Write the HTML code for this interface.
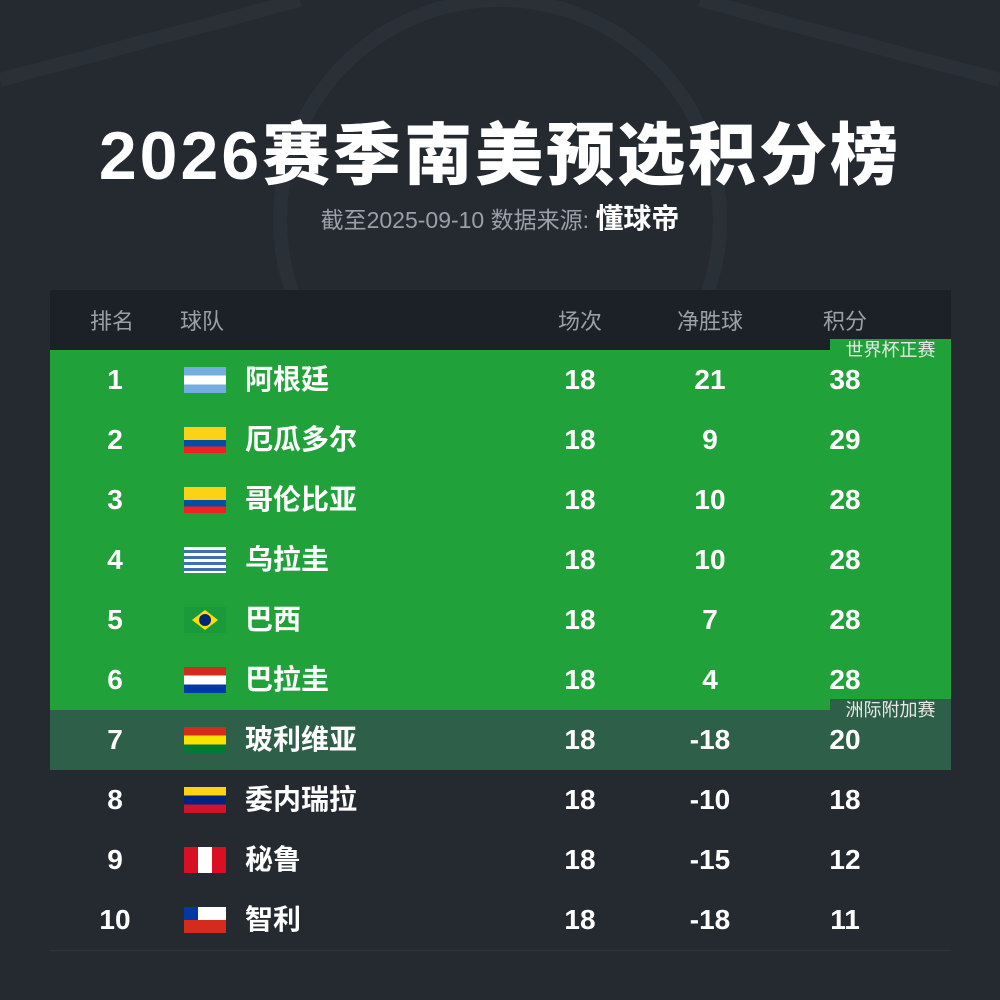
<!DOCTYPE html>
<html><head><meta charset="utf-8"><style>
body{margin:0;width:1000px;height:1000px;background:#252a31;position:relative;overflow:hidden;font-family:"Liberation Sans","Noto Sans CJK SC",sans-serif;color:#fff}
.t{position:absolute;left:0;width:1000px;text-align:center;top:100px;font-size:68px;font-weight:900;letter-spacing:3px}
.s{position:absolute;left:0;width:1000px;text-align:center;top:197px;font-size:23px;color:#9aa0a8}
.s b{color:#fff;font-size:28px}
.hd{position:absolute;left:50px;top:290px;width:901px;height:60px;background:#1c2027;color:#9aa0a8;font-size:22px}
.hd .c{top:2px}
.row{position:absolute;left:50px;width:901px;height:60px;border-bottom:1px solid #2d333b;font-weight:bold;font-size:28px}
.c{position:absolute;top:0;line-height:60px;text-align:center}
.flag{position:absolute;left:134px;top:17px;width:42px;height:26px;overflow:hidden}
.tag{position:absolute;right:0;width:121px;height:22px;font-size:18px;font-weight:normal;line-height:22px;text-align:center;color:#e8e8e8}
</style></head><body>
<svg style="position:absolute;left:0;top:0" width="1000" height="300"><g fill="none" stroke="#2a3037" stroke-width="14"><path d="M0 80 L300 0"/><path d="M700 0 L1000 80"/><circle cx="500" cy="220" r="220"/></g></svg>
<div class="t">2026赛季南美预选积分榜</div>
<div class="s">截至2025-09-10 数据来源: <b>懂球帝</b></div>
<div class="hd"><div class="c" style="left:40px;width:50px;text-align:left">排名</div><div class="c" style="left:130px">球队</div><div class="c" style="left:480px;width:100px">场次</div><div class="c" style="left:610px;width:100px">净胜球</div><div class="c" style="left:745px;width:100px">积分</div></div>
<div id="rows"></div>
<script>
var d=[["阿根廷",21,38,"ar"],["厄瓜多尔",9,29,"ec"],["哥伦比亚",10,28,"co"],["乌拉圭",10,28,"uy"],["巴西",7,28,"br"],["巴拉圭",4,28,"py"],["玻利维亚",-18,20,"bo"],["委内瑞拉",-10,18,"ve"],["秘鲁",-15,12,"pe"],["智利",-18,11,"cl"]];
var f={ar:"linear-gradient(#74acdf 33%,#fff 33% 67%,#74acdf 67%)",ec:"linear-gradient(#fcd116 50%,#034ea2 50% 75%,#e22 75%)",co:"linear-gradient(#fcd116 50%,#034ea2 50% 75%,#e22 75%)",uy:"repeating-linear-gradient(#fff 0 3px,#3e6fb5 3px 6px)",br:"#1a9a3a",py:"linear-gradient(#d52b1e 33%,#fff 33% 67%,#0038a8 67%)",bo:"linear-gradient(#d52b1e 33%,#f9e300 33% 67%,#007934 67%)",ve:"linear-gradient(#fcd116 33%,#00247d 33% 67%,#cf142b 67%)",pe:"linear-gradient(90deg,#d91023 33%,#fff 33% 67%,#d91023 67%)",cl:"linear-gradient(#fff 50%,#d52b1e 50%)"};
var h="";
d.forEach(function(r,i){var bg=i<6?"#21a13a":i==6?"#2e5f48":"#252a31";var bb=i<6?"#1d8c33":i==6?"#24493a":"#2d333b";
var extra=r[3]=="br"?'<div style="position:absolute;left:8px;top:3px;width:26px;height:20px;background:#fedf00;clip-path:polygon(50% 0,100% 50%,50% 100%,0 50%)"></div><div style="position:absolute;left:15px;top:7px;width:12px;height:12px;border-radius:50%;background:#002776"></div>':r[3]=="cl"?'<div style="position:absolute;left:0;top:0;width:14px;height:13px;background:#0039a6"></div>':"";
h+='<div class="row" style="top:'+(350+i*60)+'px;background:'+bg+';border-color:'+bb+'"><div class="c" style="left:35px;width:60px">'+(i+1)+'</div><div class="flag" style="background:'+f[r[3]]+'">'+extra+'</div><div class="c" style="left:195px;text-align:left">'+r[0]+'</div><div class="c" style="left:480px;width:100px">18</div><div class="c" style="left:610px;width:100px">'+r[1]+'</div><div class="c" style="left:745px;width:100px">'+r[2]+'</div>'+(i==0?'<div class="tag" style="top:-11px;background:#21a13a">世界杯正赛</div>':i==6?'<div class="tag" style="top:-11px;background:#2e5f48">洲际附加赛</div>':'')+'</div>';});
document.getElementById("rows").innerHTML=h;
</script>
</body></html>
